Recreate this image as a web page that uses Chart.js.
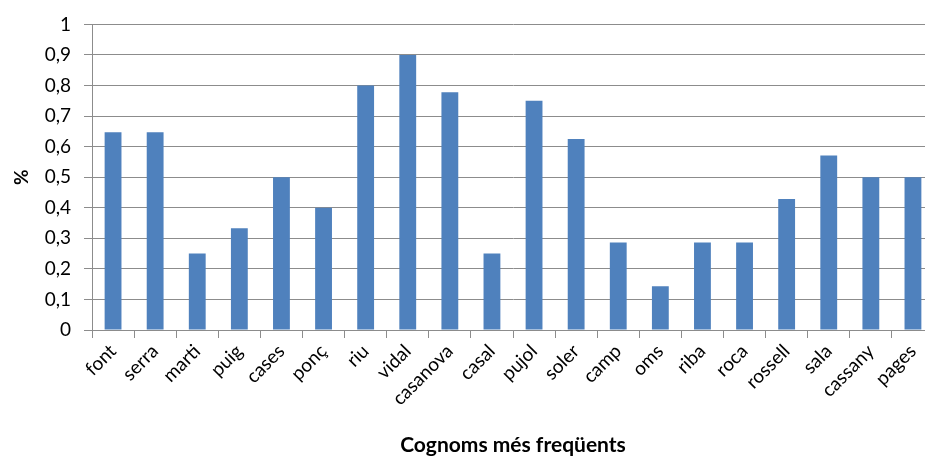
<!DOCTYPE html>
<html>
<head>
<meta charset="utf-8">
<script src="https://cdn.jsdelivr.net/npm/chart.js@4.4.1/dist/chart.umd.min.js"></script>
<style>
  html, body { margin: 0; padding: 0; background: #fff; overflow: hidden; }
  #wrap { width: 950px; height: 462px; }
</style>
</head>
<body>
<div id="wrap"><canvas id="c" width="950" height="462"></canvas></div>
<script>
// Most frequent surnames and their share (%)
const surnames = ['font', 'serra', 'marti', 'puig', 'cases', 'ponç', 'riu', 'vidal', 'casanova', 'casal',
                  'pujol', 'soler', 'camp', 'oms', 'riba', 'roca', 'rossell', 'sala', 'cassany', 'pages'];
const shares = [0.647, 0.647, 0.25, 0.333, 0.5, 0.4, 0.8, 0.9, 0.778, 0.25,
                0.75, 0.625, 0.286, 0.143, 0.286, 0.286, 0.429, 0.571, 0.5, 0.5];
const yTicks = [0, 0.1, 0.2, 0.3, 0.4, 0.5, 0.6, 0.7, 0.8, 0.9, 1];

const FONT = 'Lato, "Open Sans", "Liberation Sans", sans-serif';
const GRID = '#8c8c8c';

new Chart(document.getElementById('c'), {
  type: 'bar',
  data: {
    labels: surnames,
    datasets: [{
      data: shares,
      backgroundColor: '#4f81bd',
      borderWidth: 0,
      barPercentage: 0.4,
      categoryPercentage: 1.0
    }]
  },
  options: {
    responsive: false,
    animation: false,
    layout: { padding: { top: 24, right: 16, left: 0, bottom: 0 } },
    plugins: { legend: { display: false }, tooltip: { enabled: false } },
    scales: {
      x: {
        grid: { drawOnChartArea: false, drawTicks: true, tickLength: 8, color: GRID, lineWidth: 1, offset: true },
        border: { color: GRID, width: 1 },
        ticks: {
          color: '#000', font: { family: FONT, size: 19 },
          maxRotation: 45, minRotation: 45, autoSkip: false, padding: 2
        },
        title: {
          display: true, text: 'Cognoms més freqüents', color: '#000',
          font: { family: FONT, size: 21, weight: 'bold' }, padding: { top: 0, bottom: 4 }
        },
        afterFit: (s) => { s.height = 132; }
      },
      y: {
        min: 0, max: 1,
        afterBuildTicks: (s) => { s.ticks = yTicks.map(v => ({ value: v })); },
        grid: { color: GRID, lineWidth: 1, drawTicks: true, tickLength: 8 },
        border: { color: GRID, width: 1 },
        ticks: {
          color: '#000', font: { family: FONT, size: 19 }, padding: 13,
          callback: (v) => String(v).replace('.', ',')
        },
        title: {
          display: true, text: '%', color: '#000',
          font: { family: FONT, size: 19, weight: 'bold' }, padding: { top: 10, bottom: 0 }
        },
        afterFit: (s) => { s.width = 92; }
      }
    }
  }
});
</script>
</body>
</html>
